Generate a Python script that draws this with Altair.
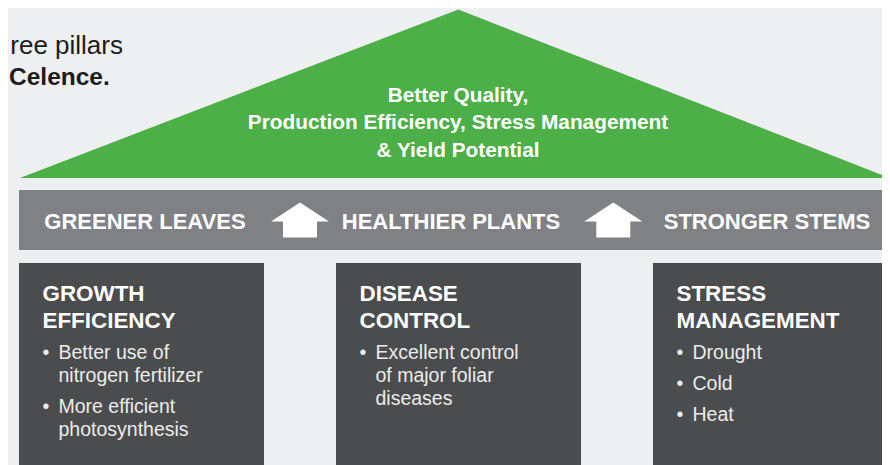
import altair as alt
import pandas as pd

# ---------------- content ----------------
heading_lines = ["ree pillars", "Celence."]
roof_lines = ["Better Quality,", "Production Efficiency, Stress Management", "& Yield Potential"]
band_labels = ["GREENER LEAVES", "HEALTHIER PLANTS", "STRONGER STEMS"]
pillar_titles = [["GROWTH", "EFFICIENCY"], ["DISEASE", "CONTROL"], ["STRESS", "MANAGEMENT"]]
pillar_bullets = [
    [["Better use of", "nitrogen fertilizer"], ["More efficient", "photosynthesis"]],
    [["Excellent control", "of major foliar", "diseases"]],
    [["Drought"], ["Cold"], ["Heat"]],
]

# ---------------- layout (page pixels) ----------------
MARGIN = 8
VIEW_R, PAGE_H = 882, 465          # drawable area on the page: x 8..882, y 8..465
FULL_R = 890                        # the reference's right edge
W, H = VIEW_R - MARGIN, PAGE_H - MARGIN

BG = "#eeeff1"
GREEN = "#4caf47"
BAND = "#808185"
PILLAR = "#4b4c4e"
INK = "#1c1c1c"
FONT = "Liberation Sans"

roof_left, roof_apex, roof_right = (20, 178), (458.3, 9.5), (FULL_R, 178)
band_box = (19, FULL_R, 190, 250)
band_centers = [145, 451, 767]
band_baseline = 229
arrow_centers = [300, 613.3]
arrow_tip_y, arrow_wing_y, arrow_bottom = 202.5, 221.5, 237.5
arrow_wing_half, arrow_stem_half = 29, 17
pillar_lefts = [19, 336, 653]
pillar_w, pillar_top = 245, 263
text_inset, bullet_indent = 23.5, 16
title_baselines = [301, 328.3]
bullet_start, line_step, bullet_step = 359.3, 23, 31
heading_x = [123, 9]
heading_align = ["right", "left"]
heading_baselines = [53.5, 84.5]
roof_cx, roof_baselines = 458, [101.7, 129.3, 156.5]

# ---------------- build tables ----------------
xs = alt.Scale(domain=[MARGIN, VIEW_R], nice=False, zero=False)
ys = alt.Scale(domain=[MARGIN, PAGE_H], nice=False, zero=False, reverse=True)
X = alt.X("x:Q", scale=xs, axis=None)
Y = alt.Y("y:Q", scale=ys, axis=None)

roof_df = pd.DataFrame({
    "x": [roof_left[0], roof_apex[0], roof_right[0]],
    "y": [roof_left[1], roof_apex[1], roof_right[1]],
    "yb": [roof_left[1]] * 3,
})

rects = []
rects.append(dict(x=band_box[0], x2=band_box[1], y=band_box[2], y2=band_box[3], kind="band"))
for left in pillar_lefts:
    rects.append(dict(x=left, x2=left + pillar_w, y=pillar_top, y2=PAGE_H + 5, kind="pillar"))
rect_df = pd.DataFrame(rects)

head_rows, stem_rows = [], []
for i, cx in enumerate(arrow_centers):
    head_rows += [
        dict(id=i, x=cx - arrow_wing_half, y=arrow_wing_y, yb=arrow_wing_y),
        dict(id=i, x=cx, y=arrow_tip_y, yb=arrow_wing_y),
        dict(id=i, x=cx + arrow_wing_half, y=arrow_wing_y, yb=arrow_wing_y),
    ]
    stem_rows.append(dict(x=cx - arrow_stem_half, x2=cx + arrow_stem_half, y=arrow_wing_y - 0.5, y2=arrow_bottom))
head_df = pd.DataFrame(head_rows)
stem_df = pd.DataFrame(stem_rows)

heading_df = pd.DataFrame({"x": heading_x, "y": heading_baselines, "text": heading_lines})
roof_df_t = pd.DataFrame({"x": [roof_cx] * 3, "y": roof_baselines, "text": roof_lines})
band_df = pd.DataFrame({"x": band_centers, "y": [band_baseline] * 3, "text": band_labels})

title_rows, body_rows, dot_rows = [], [], []
for left, titles, bullets in zip(pillar_lefts, pillar_titles, pillar_bullets):
    tx = left + text_inset
    for t, b in zip(titles, title_baselines):
        title_rows.append(dict(x=tx, y=b, text=t))
    yb = bullet_start
    for bullet in bullets:
        dot_rows.append(dict(x=tx, y=yb, text="\u2022"))
        for j, line in enumerate(bullet):
            body_rows.append(dict(x=tx + bullet_indent, y=yb, text=line))
            if j < len(bullet) - 1:
                yb += line_step
        yb += bullet_step
title_df = pd.DataFrame(title_rows)
body_df = pd.DataFrame(body_rows)
dot_df = pd.DataFrame(dot_rows)

# ---------------- marks ----------------
roof = alt.Chart(roof_df).mark_area(color=GREEN, clip=True).encode(
    x=X, y=Y, y2="yb:Q")

boxes = alt.Chart(rect_df).mark_rect(opacity=1, clip=True).encode(
    x=X, x2=alt.X2("x2:Q"), y=Y, y2=alt.Y2("y2:Q"),
    color=alt.Color("kind:N", scale=alt.Scale(domain=["band", "pillar"], range=[BAND, PILLAR]), legend=None))

heads = alt.Chart(head_df).mark_area(color="white").encode(
    x=X, y=Y, y2="yb:Q", detail="id:N")
stems = alt.Chart(stem_df).mark_rect(color="white", opacity=1).encode(
    x=X, x2=alt.X2("x2:Q"), y=Y, y2=alt.Y2("y2:Q"))


def text_layer(df, size, weight, color, align):
    return alt.Chart(df).mark_text(
        align=align, baseline="alphabetic", font=FONT, fontSize=size,
        fontWeight=weight, color=color).encode(x=X, y=Y, text="text:N")


head1 = text_layer(heading_df.iloc[[0]], 26, "normal", INK, heading_align[0])
head2 = text_layer(heading_df.iloc[[1]], 24.5, "bold", INK, heading_align[1])
roof_text = text_layer(roof_df_t, 20.8, "bold", "white", "center")
band_text = text_layer(band_df, 22, "bold", "white", "center")
titles = text_layer(title_df, 22.4, "bold", "white", "left")
body = text_layer(body_df, 19.5, "normal", "#ececec", "left")
dots = text_layer(dot_df, 19.5, "normal", "#ececec", "left")

chart = alt.layer(
    roof, boxes, heads, stems, head1, head2, roof_text, band_text, titles, body, dots
).properties(
    width=W, height=H, background=BG, padding=0,
    autosize=alt.AutoSizeParams(type="none")
).configure_view(strokeWidth=0)

chart.save("out.html", embed_options={"renderer": "svg", "actions": False})
